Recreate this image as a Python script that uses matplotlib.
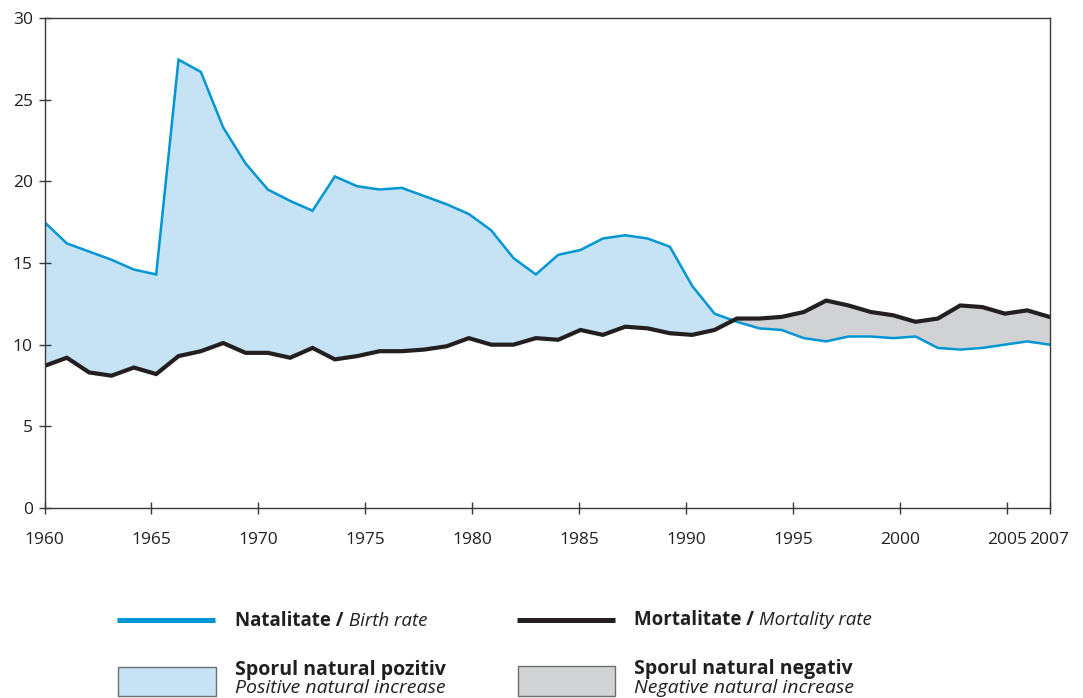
import matplotlib.pyplot as plt
import numpy as np
from matplotlib.patches import Rectangle
from matplotlib.lines import Line2D

plt.rcParams['font.family'] = ['Open Sans', 'DejaVu Sans']

# birth and mortality rates (per 1000), 46 yearly points
birth = [17.5, 16.2, 15.7, 15.2, 14.6, 14.3, 27.45, 26.7, 23.3, 21.1,
         19.5, 18.8, 18.2, 20.3, 19.7, 19.5, 19.6, 19.1, 18.6, 18.0,
         17.0, 15.3, 14.3, 15.5, 15.8, 16.5, 16.7, 16.5, 16.0, 13.6,
         11.9, 11.4, 11.0, 10.9, 10.4, 10.2, 10.5, 10.5, 10.4, 10.5,
         9.8, 9.7, 9.8, 10.0, 10.2, 10.0]
mortality = [8.7, 9.2, 8.3, 8.1, 8.6, 8.2, 9.3, 9.6, 10.1, 9.5,
             9.5, 9.2, 9.8, 9.1, 9.3, 9.6, 9.6, 9.7, 9.9, 10.4,
             10.0, 10.0, 10.4, 10.3, 10.9, 10.6, 11.1, 11.0, 10.7, 10.6,
             10.9, 11.6, 11.6, 11.7, 12.0, 12.7, 12.4, 12.0, 11.8, 11.4,
             11.6, 12.4, 12.3, 11.9, 12.1, 11.7]
xticks = [1960, 1965, 1970, 1975, 1980, 1985, 1990, 1995, 2000, 2005, 2007]
yticks = [0, 5, 10, 15, 20, 25, 30]

BLUE = '#0096d3'
BLACK = '#231f20'
LIGHTBLUE = '#c5e3f4'
GREY = '#d1d2d4'

# the points are spread evenly over the whole 1960-2007 axis in the original
x = np.linspace(1960, 2007, len(birth))
b = np.array(birth)
m = np.array(mortality)

fig = plt.figure(figsize=(10.83, 6.98), dpi=100)
ax = fig.add_axes([0.0411, 0.2722, 0.928, 0.702])

ax.fill_between(x, b, m, where=b >= m, interpolate=True, color=LIGHTBLUE, lw=0)
ax.fill_between(x, b, m, where=b <= m, interpolate=True, color=GREY, lw=0)
ax.plot(x, b, color=BLUE, lw=1.8, solid_joinstyle='miter')
ax.plot(x, m, color=BLACK, lw=3, solid_joinstyle='miter')

ax.set_xlim(1960, 2007)
ax.set_ylim(0, 30)
ax.set_xticks(xticks)
ax.set_yticks(yticks)
for s in ax.spines.values():
    s.set_color('#3a3a3a')
    s.set_linewidth(1.0)
ax.tick_params(direction='inout', length=8, width=1, color='#3a3a3a',
               labelsize=12.5, labelcolor='#231f20')
ax.tick_params(axis='x', pad=13.5)
ax.tick_params(axis='y', pad=4.5)

# legend drawn by hand below the chart
def fx(px):
    return px / 1083
def fy(py):
    return 1 - py / 698

fig.add_artist(Line2D([fx(117), fx(215)], [fy(620), fy(620)], color=BLUE, lw=3.6,
                      solid_capstyle='butt'))
fig.add_artist(Line2D([fx(517), fx(615)], [fy(620), fy(620)], color=BLACK, lw=3.6,
                      solid_capstyle='butt'))
fig.add_artist(Rectangle((fx(118), fy(696)), fx(98), 29 / 698, facecolor=LIGHTBLUE,
                         edgecolor='#6d6e70', lw=1))
fig.add_artist(Rectangle((fx(518), fy(696)), fx(97), 30 / 698, facecolor=GREY,
                         edgecolor='#6d6e70', lw=1))

renderer = fig.canvas.get_renderer()

def two_part(px, py, bold, italic):
    t = fig.text(fx(px), fy(py), bold, fontsize=13.5, fontweight='bold',
                 color=BLACK, va='baseline')
    w = t.get_window_extent(renderer).width
    fig.text(fx(px + w), fy(py), italic, fontsize=13.5, style='italic',
             color=BLACK, va='baseline')

two_part(235, 626, 'Natalitate /', ' Birth rate')
two_part(634, 625, 'Mortalitate /', ' Mortality rate')
fig.text(fx(235), fy(675), 'Sporul natural pozitiv', fontsize=14,
         fontweight='bold', color=BLACK, va='baseline')
fig.text(fx(235), fy(693), 'Positive natural increase', fontsize=14,
         style='italic', color=BLACK, va='baseline')
fig.text(fx(634), fy(674), 'Sporul natural negativ', fontsize=14,
         fontweight='bold', color=BLACK, va='baseline')
fig.text(fx(634), fy(693), 'Negative natural increase', fontsize=14,
         style='italic', color=BLACK, va='baseline')

fig.savefig('out.png', dpi=100)
